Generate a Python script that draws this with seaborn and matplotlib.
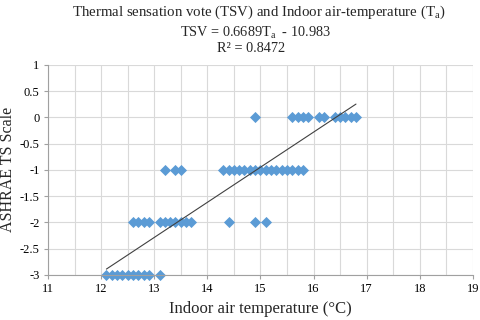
import numpy as np
import pandas as pd
import matplotlib
matplotlib.use('Agg')
import matplotlib.pyplot as plt
from matplotlib.ticker import MultipleLocator, FuncFormatter
import seaborn as sns

sns.set_theme(style='white')
plt.rcParams['font.family'] = ['Liberation Serif', 'DejaVu Serif']
plt.rcParams['mathtext.fontset'] = 'custom'
plt.rcParams['mathtext.rm'] = 'Liberation Serif'
plt.rcParams['mathtext.it'] = 'Liberation Serif:italic'
plt.rcParams['axes.unicode_minus'] = False

# indoor air temperature (°C) for each vote level
temp_m3 = [12.1, 12.2, 12.3, 12.4, 12.5, 12.6, 12.7, 12.8, 12.9, 13.1]
temp_m2 = [12.6, 12.7, 12.8, 12.9, 13.1, 13.2, 13.3, 13.4, 13.5, 13.6, 13.7,
           14.4, 14.9, 15.1]
temp_m1 = [13.2, 13.4, 13.5, 14.3, 14.4, 14.5, 14.6, 14.7, 14.8, 14.9,
           15.0, 15.1, 15.2, 15.3, 15.4, 15.5, 15.6, 15.7, 15.8]
temp_0 = [14.9, 15.6, 15.7, 15.8, 15.9, 16.1, 16.2, 16.4, 16.5, 16.6,
          16.7, 16.8]
votes = [-3, -2, -1, 0]

# trendline coefficients shown on the chart
slope = 0.6689
intercept = -10.983
r2 = 0.8472

df = pd.concat([
    pd.DataFrame({'Ta': t, 'TSV': v})
    for t, v in zip([temp_m3, temp_m2, temp_m1, temp_0], votes)
], ignore_index=True)

fig = plt.figure(figsize=(4.8, 3.2), dpi=100)
ax = fig.add_axes([0.1, 0.141, 0.885, 0.656])

# fitted line over data range
xs = np.array([df['Ta'].min(), df['Ta'].max()])
fit = pd.DataFrame({'Ta': xs, 'TSV': slope * xs + intercept})
sns.lineplot(data=fit, x='Ta', y='TSV', ax=ax, color='#404040', lw=0.8, zorder=3)

sns.scatterplot(data=df, x='Ta', y='TSV', ax=ax, marker='D', s=32,
                color='#5b9bd5', linewidth=0, zorder=2, clip_on=False)

ax.set_xlim(11, 19)
ax.set_ylim(-3, 1)
ax.xaxis.set_major_locator(MultipleLocator(1))
ax.xaxis.set_minor_locator(MultipleLocator(0.5))
ax.yaxis.set_major_locator(MultipleLocator(0.5))
fmt = FuncFormatter(lambda v, p: '%g' % v)
ax.xaxis.set_major_formatter(fmt)
ax.yaxis.set_major_formatter(fmt)
ax.grid(True, which='both', color='#d9d9d9', lw=0.8)
ax.set_axisbelow(True)
for side in ['top', 'right']:
    ax.spines[side].set_visible(False)
for side in ['left', 'bottom']:
    ax.spines[side].set_color('#a0a0a0')
    ax.spines[side].set_linewidth(0.8)
ax.tick_params(axis='both', which='major', labelsize=9, colors='#a0a0a0',
               labelcolor='black', length=3, width=0.8, pad=3, left=True, bottom=True)
ax.tick_params(axis='x', which='minor', length=0)

ax.set_xlabel('Indoor air temperature (°C)', fontsize=12, labelpad=4)
ax.set_ylabel('ASHRAE TS Scale', fontsize=11.5)
ax.yaxis.set_label_coords(-0.075, 0.5)

fig.text(0.54, 0.962, r'Thermal sensation vote (TSV) and Indoor air-temperature (T$_\mathrm{a}$)',
         ha='center', va='center', fontsize=10.7)
fig.text(0.532, 0.897, r'TSV = %.4fT$_\mathrm{a}$  - %.3f' % (slope, -intercept),
         ha='center', va='center', fontsize=10.3)
fig.text(0.523, 0.85, 'R² = %.4f' % r2, ha='center', va='center', fontsize=10.3)

fig.savefig('out.png', dpi=100)
